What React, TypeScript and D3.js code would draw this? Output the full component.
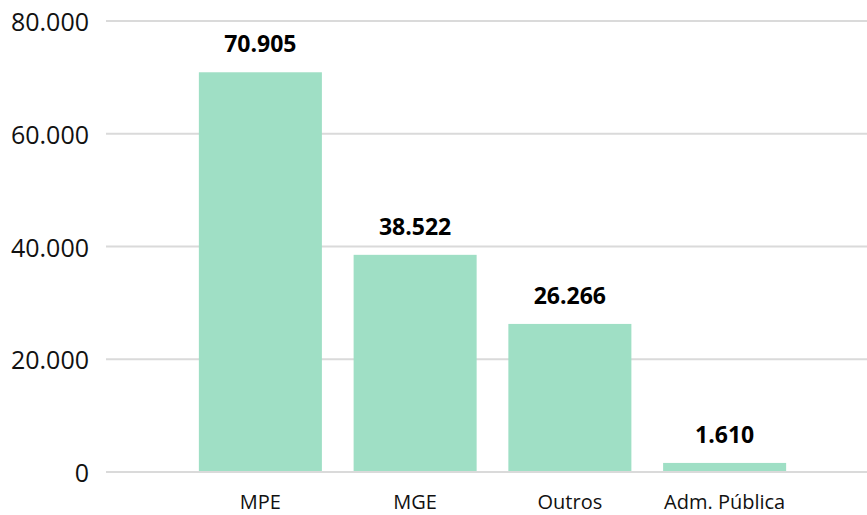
import React from "react";
import * as d3 from "d3";

const categories = ["MPE", "MGE", "Outros", "Adm. Pública"];
const values = [70905, 38522, 26266, 1610];
const yTicks = [0, 20000, 40000, 60000, 80000];

const W = 867;
const H = 515;

export default function App() {
  const y = d3.scaleLinear().domain([0, 80000]).range([472, 21]);
  const x = d3
    .scaleBand<string>()
    .domain(categories)
    .range([183, 802])
    .paddingInner(0.205)
    .paddingOuter(0.1025);
  const fmt = (v: number) => d3.format(",")(v).replace(/,/g, ".");
  const font = "'Open Sans', 'Noto Sans', sans-serif";
  return (
    <svg
      width={W}
      height={H}
      style={{ position: "absolute", left: 0, top: 0, background: "#fff" }}
      fontFamily={font}
    >
      {yTicks.map((t) => (
        <g key={t}>
          <line x1={106} x2={W} y1={y(t)} y2={y(t)} stroke="#dadada" strokeWidth={2} />
          <text
            x={89}
            y={y(t)}
            textAnchor="end"
            dominantBaseline="central"
            fontSize={25}
            fill="#111"
          >
            {fmt(t)}
          </text>
        </g>
      ))}
      {categories.map((c, i) => (
        <g key={c}>
          <rect
            x={x(c)}
            y={y(values[i])}
            width={x.bandwidth()}
            height={y(0) - y(values[i]) - 1}
            fill="#9fdfc5"
          />
          <text
            x={(x(c) as number) + x.bandwidth() / 2}
            y={y(values[i]) - 20}
            textAnchor="middle"
            fontSize={23}
            fontWeight="bold"
            fill="#000"
          >
            {fmt(values[i])}
          </text>
          <text
            x={(x(c) as number) + x.bandwidth() / 2}
            y={509}
            textAnchor="middle"
            fontSize={20}
            fill="#111"
          >
            {c}
          </text>
        </g>
      ))}
    </svg>
  );
}
